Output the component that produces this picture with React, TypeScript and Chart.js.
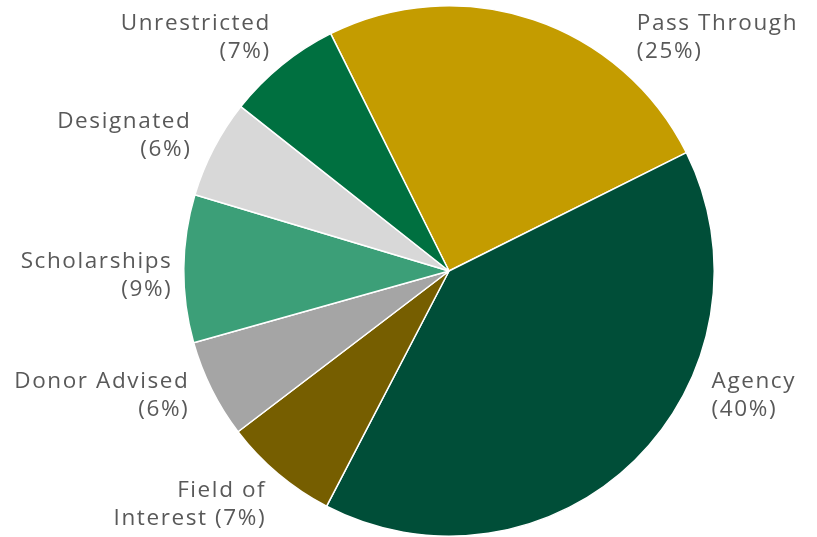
import React, { useEffect, useRef } from "react";
import { Chart, registerables } from "chart.js";

Chart.register(...registerables);

const categories = [
  "Pass Through",
  "Agency",
  "Field of Interest",
  "Donor Advised",
  "Scholarships",
  "Designated",
  "Unrestricted",
];
const shares = [25, 40, 7, 6, 9, 6, 7];
const sliceColors = [
  "#C49C00",
  "#004E38",
  "#765E00",
  "#A5A5A5",
  "#3C9F78",
  "#D8D8D8",
  "#007040",
];
// label text lines (label text + percentage)
const labelLines = [
  ["Pass Through", "(25%)"],
  ["Agency", "(40%)"],
  ["Field of", "Interest (7%)"],
  ["Donor Advised", "(6%)"],
  ["Scholarships", "(9%)"],
  ["Designated", "(6%)"],
  ["Unrestricted", "(7%)"],
];
// label anchor offsets relative to pie centre, in units of radius; align side
const labelLayout: { fx: number; fy: number; align: CanvasTextAlign }[] = [
  { fx: 0.708, fy: -0.879, align: "left" },
  { fx: 0.99, fy: 0.469, align: "left" },
  { fx: -0.695, fy: 0.882, align: "right" },
  { fx: -0.985, fy: 0.469, align: "right" },
  { fx: -1.049, fy: 0.018, align: "right" },
  { fx: -0.977, fy: -0.512, align: "right" },
  { fx: -0.678, fy: -0.879, align: "right" },
];

const labelPlugin = {
  id: "outerLabels",
  afterDatasetsDraw(chart: any) {
    const meta = chart.getDatasetMeta(0);
    const arc0 = meta.data[0];
    if (!arc0) return;
    const cx = arc0.x;
    const cy = arc0.y;
    const r = arc0.outerRadius;
    const ctx = chart.ctx as CanvasRenderingContext2D;
    ctx.save();
    ctx.font = "400 22.5px 'Open Sans'";
    (ctx as any).letterSpacing = "1.6px";
    ctx.fillStyle = "#595959";
    ctx.textBaseline = "middle";
    const lineH = 28;
    labelLines.forEach((lines, i) => {
      const l = labelLayout[i];
      ctx.textAlign = l.align;
      const x = cx + l.fx * r + (l.align === "right" ? 1.6 : 0);
      const yc = cy + l.fy * r;
      const y0 = yc - ((lines.length - 1) * lineH) / 2;
      lines.forEach((t, j) => ctx.fillText(t, x, y0 + j * lineH));
    });
    ctx.restore();
  },
};

export default function App() {
  const ref = useRef<HTMLCanvasElement | null>(null);
  useEffect(() => {
    if (!ref.current) return;
    const chart = new Chart(ref.current, {
      type: "pie",
      data: {
        labels: categories,
        datasets: [
          {
            data: shares,
            backgroundColor: sliceColors,
            borderColor: "#FFFFFF",
            borderWidth: 1.5,
            hoverOffset: 0,
          },
        ],
      },
      options: {
        animation: false,
        responsive: true,
        maintainAspectRatio: false,
        rotation: -26.5,
        layout: { padding: { left: 183, right: 102, top: 5, bottom: 0 } },
        plugins: {
          legend: { display: false },
          tooltip: { enabled: false },
        },
      },
      plugins: [labelPlugin],
    });
    return () => chart.destroy();
  }, []);
  return (
    <div style={{ position: "fixed", left: 0, top: 0, width: 817, height: 537, background: "#fff" }}>
      <canvas ref={ref} />
    </div>
  );
}
